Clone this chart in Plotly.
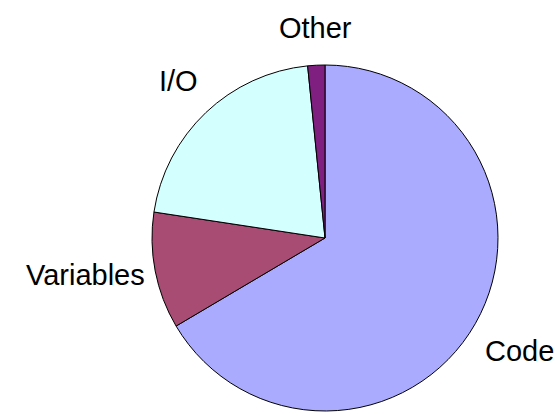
import math
import plotly.graph_objects as go

labels = ["Code", "Variables", "I/O", "Other"]
values = [66.5, 10.9, 21.0, 1.6]
colors = ["#AAAAFF", "#A84C74", "#D4FFFF", "#7F1F7F"]

W, H = 557, 417
cx, cy_top = 325, 238          # pie center in pixels (from top-left)
r = 173                          # radius in pixels
cy = H - cy_top                  # center from bottom

dom_x = [(cx - r) / W, (cx + r) / W]
dom_y = [(cy - r) / H, (cy + r) / H]

fig = go.Figure(go.Pie(
    labels=labels, values=values, sort=False, direction="clockwise", rotation=0,
    marker=dict(colors=colors, line=dict(color="#000000", width=1)),
    textinfo="none", hoverinfo="label+percent", showlegend=False,
    domain=dict(x=dom_x, y=dom_y),
))

# label annotations placed from the slice mid-angles
total = sum(values)
cum = 0
Rx = r * 1.05
Ry = r * 1.11
annotations = []
for lab, v in zip(labels, values):
    mid = (cum + v / 2) / total * 2 * math.pi
    cum += v
    s, c = math.sin(mid), math.cos(mid)
    px = cx + Rx * s
    py = cy + Ry * c
    xa = "left" if s > 0.3 else ("right" if s < -0.3 else "center")
    ya = "bottom" if c > 0.3 else ("top" if c < -0.3 else "middle")
    annotations.append(dict(
        x=px / W, y=py / H, xref="paper", yref="paper", text=lab, showarrow=False,
        xanchor=xa, yanchor=ya, font=dict(size=29, color="#000000", family="Liberation Sans, Arial, sans-serif"),
    ))

fig.update_layout(
    width=W, height=H, margin=dict(l=0, r=0, t=0, b=0),
    paper_bgcolor="#FFFFFF", plot_bgcolor="#FFFFFF",
    annotations=annotations,
)
fig.write_html("out.html")
